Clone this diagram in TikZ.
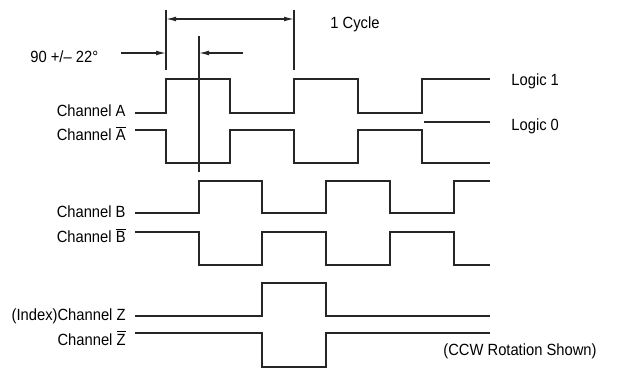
\documentclass[tikz,border=0pt]{standalone}
\usepackage{fontspec}
\setmainfont{Liberation Sans}[FakeStretch=0.91]
\usepackage{tikz}
\usetikzlibrary{arrows.meta}
\newcommand{\barred}[1]{$\overline{\mbox{#1}}$}

\begin{document}
\begin{tikzpicture}[x=0.5pt,y=-0.5pt,
    >={Latex[length=5pt,width=2.4pt]},
    txt/.style={inner sep=0pt,font={\fontsize{8.1}{9.5}\selectfont}},
    chan/.style={txt,anchor=base east},
    wave/.style={line width=0.6pt,black!85},
    dimen/.style={line width=0.6pt,black!85},
    ]
	\useasboundingbox (0,0) rectangle (625,373);
	% cycle and phase marks
	\coordinate (t0) at (166,19);
	\coordinate (t1) at (294,19);
	\coordinate (p0) at (166,53);
	\coordinate (p1) at (199,53);
	\coordinate (q0) at (121,53);
	\coordinate (q1) at (243,53);
	\draw[dimen] (166,10) -- (166,70);
	\draw[dimen] (294,10) -- (294,70);
	\draw[dimen,<->] (t0) -- (t1);
	\draw[dimen,->] (q0) -- (p0);
	\draw[dimen,->] (q1) -- (p1);
	\draw[dimen] (199,36) -- (199,172);
	\node[txt,anchor=base west] (cycle) at (330,29) {1 Cycle};
	\node[txt,anchor=base west] (phase) at (30,63) {90 +/– 22°};
	% channel A
	\node[chan] (chA) at (126,117) {Channel A};
	\node[chan] (chAn) at (126,141) {Channel \barred{A}};
	\draw[wave] (135,113) -| (166,79) -| (230,113) -| (294,79) -| (358,113) -| (422,79) -- (490,79);
	\draw[wave] (135,130) -| (166,163) -| (230,130) -| (294,163) -| (358,130) -| (422,163) -- (490,163);
	\draw[wave] (424,122) -- (490,122);
	\node[txt,anchor=base west] (hi) at (511,86) {Logic 1};
	\node[txt,anchor=base west] (lo) at (511,131) {Logic 0};
	% channel B
	\node[chan] (chB) at (126,218) {Channel B};
	\node[chan] (chBn) at (126,243) {Channel \barred{B}};
	\draw[wave] (135,213) -| (199,181) -| (262,213) -| (326,181) -| (390,213) -| (454,181) -- (490,181);
	\draw[wave] (135,232) -| (199,265) -| (262,232) -| (326,265) -| (390,232) -| (454,265) -- (490,265);
	% channel Z
	\node[chan] (chZ) at (126,320) {(Index)Channel Z};
	\node[chan] (chZn) at (126,345) {Channel \barred{Z}};
	\draw[wave] (135,316) -| (262,283) -| (326,316) -- (490,316);
	\draw[wave] (135,333) -| (262,367) -| (326,333) -- (490,333);
	\node[txt,anchor=base west] (ccw) at (443,355) {(CCW Rotation Shown)};
\end{tikzpicture}
\end{document}
